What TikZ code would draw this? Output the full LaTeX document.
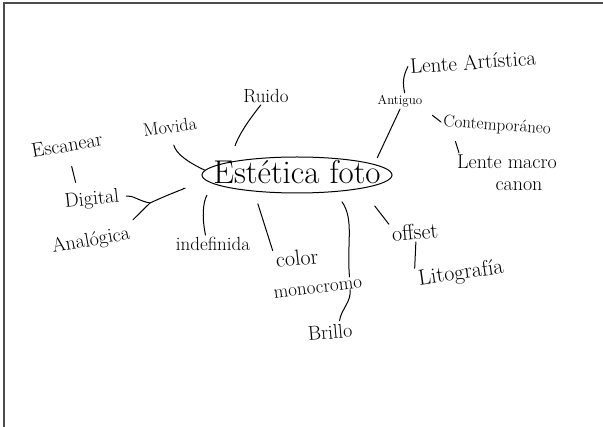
\documentclass[tikz,border=0pt]{standalone}
\usepackage{fontspec}
\usetikzlibrary{shapes.geometric}
\tikzset{conn/.style = {line width=1pt, line cap=round},
         word/.style = {font=\fontsize{#1}{22}\selectfont, inner sep=2pt},
         word/.default = 20,
         oval/.style = {draw, ellipse, line width=1pt, minimum width=190pt, minimum height=36pt, inner sep=0pt}}

\begin{document}
\begin{tikzpicture}[x=1pt,y=1pt]
\useasboundingbox (0,0) rectangle (603,-427);
\draw[gray!60!black, line width=1.5pt] (4,-427) -- (4,-3) -- (603,-3);

\node[oval] (foto) at (297,-175) {\smash{\raisebox{-9pt}{\makebox[0pt]{\fontsize{33}{36}\selectfont Estética foto}}}};
\node[word=19] (ruido) at (266,-96) {Ruido};
\node[word=18, rotate=8] (movida) at (170,-127) {Movida};
\node[word, rotate=10] (escanear) at (67,-145) {Escanear};
\node[word, rotate=6] (digital) at (92,-200) {Digital};
\node[word=20, rotate=10] (analogica) at (91,-241) {Analógica};
\node[word=19] (indef) at (213,-244) {indefinida};
\node[word=22, rotate=6] (color) at (297,-258) {color};
\node[word=19, rotate=7] (mono) at (318,-289) {monocromo};
\node[word, rotate=5] (brillo) at (330,-332) {Brillo};
\node[word=22, rotate=5] (offset) at (415,-232) {offset};
\node[word=22, rotate=8] (lito) at (461,-274) {Litografía};
\node[word=13] (antiguo) at (400,-101) {Antiguo};
\node[word=21, rotate=4] (lenteart) at (473,-62) {Lente Artística};
\node[word=17, rotate=-4] (contemp) at (497,-126) {Contemporáneo};
\node[word, align=center] (macro) at (507,-173) {Lente macro\\\hspace*{1.2em}canon};
\coordinate (fork) at (150,-203);

\draw[conn, shorten <=17pt] (foto.169) to[bend left=10] (ruido.240);
\draw[conn, shorten >=10pt] (foto.177) to[out=155, in=-75] (movida.south);
\draw[conn, shorten <=13pt, shorten >=8pt] (escanear.south) -- (digital.140);
\draw[conn, shorten <=5pt] (digital.east) to[out=10, in=170] (fork);
\draw[conn, shorten >=30pt] (fork) to[bend left=8] (foto.186);
\draw[conn, shorten <=4pt] (analogica.north east) -- (fork);
\draw[conn, shorten <=13pt] (foto.186) to[bend right=20] (indef.130);
\draw[conn, shorten <=13pt] (foto.201) -- (color.north west);
\draw[conn, shorten <=12pt] (foto.-24) to[out=-55, in=95] ([xshift=-14pt]mono.north east);
\draw[conn] ([xshift=-15pt]mono.south east) to[out=-85, in=80] ([xshift=-14pt]brillo.north east);
\draw[conn, shorten <=22pt] (foto.-12) -- (offset.north west);
\draw[conn] (offset.south) -- (lito.north west);
\draw[conn, shorten <=7pt] (foto.8) -- (antiguo.south);
\draw[conn] (antiguo.60) to[bend left=20] (lenteart.west);
\draw[conn, shorten <=10pt] (antiguo.south east) -- (contemp.west);
\draw[conn, shorten <=10pt] ([xshift=12pt]contemp.south west) -- ([xshift=4pt]macro.north west);
\end{tikzpicture}
\end{document}
